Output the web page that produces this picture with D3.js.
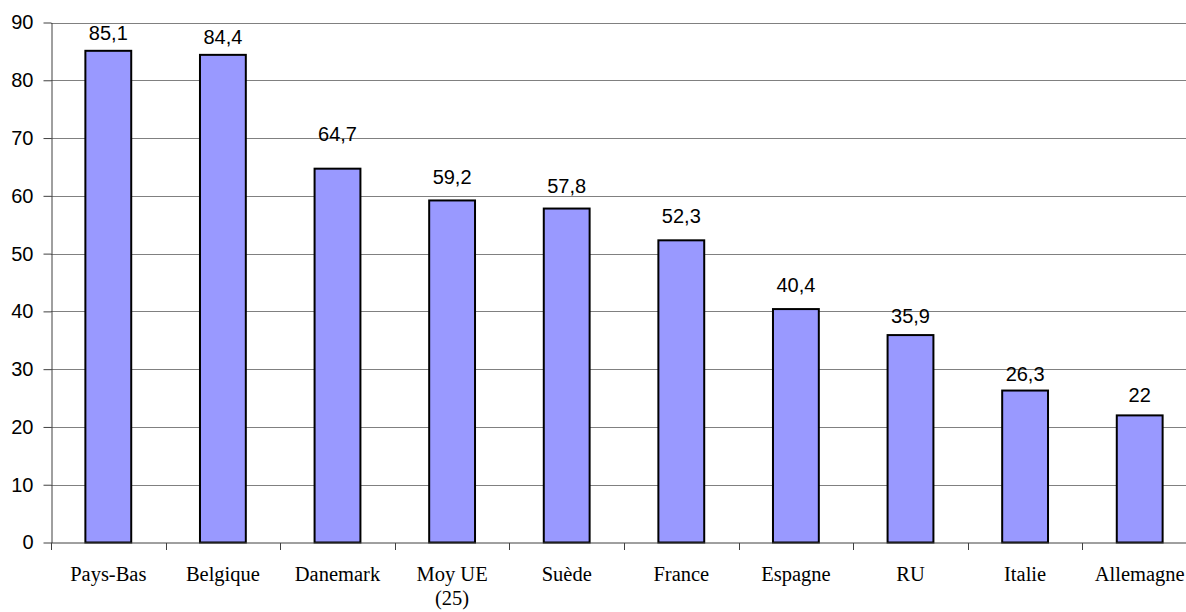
<!DOCTYPE html>
<html><head><meta charset="utf-8">
<script src="https://cdn.jsdelivr.net/npm/d3@7"></script>
<style>body{margin:0;background:#fff}svg{display:block}</style>
</head><body>
<svg id="c" width="1186" height="612"></svg>
<script>
const categories = ["Pays-Bas","Belgique","Danemark","Moy UE (25)","Suède","France","Espagne","RU","Italie","Allemagne"];
const values = [85.1,84.4,64.7,59.2,57.8,52.3,40.4,35.9,26.3,22];
const valueLabels = ["85,1","84,4","64,7","59,2","57,8","52,3","40,4","35,9","26,3","22"];
const yTicks = [0,10,20,30,40,50,60,70,80,90];
// label gap above bar top (px), as placed in the original
const labelGap = [10.5,10.5,28,16,16,17,17,12,10,13];

const svg = d3.select("#c");
const plotLeft = 51, plotTop = 22.5, plotBottom = 542.5, bandW = 114.6;
const x = d3.scaleBand().domain(categories).range([plotLeft, plotLeft + bandW*categories.length]).paddingInner(0.6).paddingOuter(0.3);
const y = d3.scaleLinear().domain([0,90]).range([plotBottom, plotTop]);

// gridlines
svg.append("g").selectAll("line").data(yTicks.filter(d=>d>0)).join("line")
  .attr("x1", plotLeft).attr("x2", 1186)
  .attr("y1", d=>Math.round(y(d))+0.5).attr("y2", d=>Math.round(y(d))+0.5)
  .attr("stroke","#808080").attr("stroke-width",1);

// bars
svg.append("g").selectAll("rect").data(values).join("rect")
  .attr("x",(d,i)=>x(categories[i]))
  .attr("width", x.bandwidth())
  .attr("y", d=>y(d))
  .attr("height", d=>plotBottom - y(d))
  .attr("fill","#9999FF").attr("stroke","#000").attr("stroke-width",2);

// y axis
const ya = svg.append("g").attr("transform",`translate(${plotLeft+0.5},0)`)
  .call(d3.axisLeft(y).tickValues(yTicks).tickSize(8).tickPadding(10).tickSizeOuter(0));
ya.select(".domain").attr("stroke","#404040");
ya.selectAll(".tick line").attr("stroke","#404040");
ya.selectAll("text").attr("font-family","'Liberation Sans', Arial, sans-serif").attr("font-size","20px").attr("fill","#000");

// x axis
const xa = svg.append("g").attr("transform",`translate(0,${plotBottom+0.5})`);
xa.append("line").attr("x1",plotLeft).attr("x2",1186).attr("stroke","#404040");
const tickPos = d3.range(categories.length).map(i=>plotLeft + i*bandW);
xa.selectAll(".tk").data(tickPos).join("line").attr("class","tk")
  .attr("x1",d=>Math.round(d)+0.5).attr("x2",d=>Math.round(d)+0.5).attr("y1",0).attr("y2",7)
  .attr("stroke","#404040");

const lbl = svg.append("g").attr("font-family","'Liberation Serif','Times New Roman',serif").attr("font-size","20.5px").attr("text-anchor","middle");
categories.forEach((c,i)=>{
  const cx = x(c) + x.bandwidth()/2;
  const t = lbl.append("text").attr("x",cx).attr("y",581);
  if (c === "Moy UE (25)") {
    t.append("tspan").attr("x",cx).text("Moy UE");
    t.append("tspan").attr("x",cx).attr("dy",24).text("(25)");
  } else t.text(c);
});

// value labels
svg.append("g").attr("font-family","'Liberation Sans', Arial, sans-serif").attr("font-size","20px").attr("text-anchor","middle")
  .selectAll("text").data(values).join("text")
  .attr("x",(d,i)=>x(categories[i]) + x.bandwidth()/2)
  .attr("y",(d,i)=>y(d) - labelGap[i])
  .text((d,i)=>valueLabels[i]);
</script>
</body></html>
